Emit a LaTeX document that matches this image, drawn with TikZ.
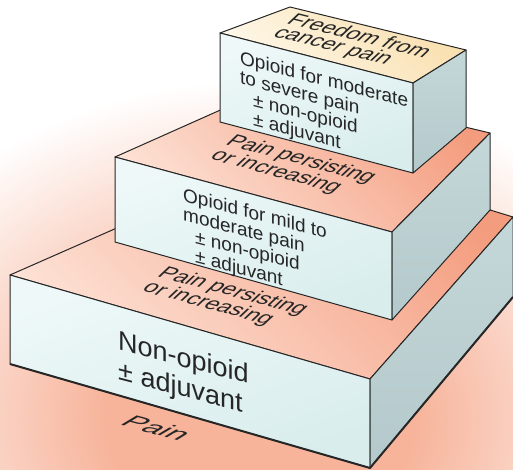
\documentclass[tikz,border=0pt]{standalone}
\usepackage{fontspec}
\setmainfont{Liberation Sans}
\definecolor{edge}{HTML}{262626}
\definecolor{frontA}{HTML}{EEF8F8}
\definecolor{frontB}{HTML}{D9EDED}
\definecolor{sideA}{HTML}{C4D7D9}
\definecolor{sideB}{HTML}{B4C9CB}
\definecolor{topDark}{HTML}{F49C7E}
\definecolor{topLight}{HTML}{FDE2D6}
\definecolor{creamDark}{HTML}{F9DFAE}
\definecolor{creamLight}{HTML}{FEF8EA}
\definecolor{glowc}{HTML}{F7B49B}
\pgfdeclareradialshading{glowshade}{\pgfpoint{0bp}{0bp}}{color(0bp)=(glowc); color(9bp)=(glowc); color(25bp)=(white); color(50bp)=(white)}
\begin{document}
\begin{tikzpicture}[x=1pt,y=-1pt,
  frontface/.style={top color=frontA, bottom color=frontB, shading angle=20, draw=edge, line width=1pt, line join=round},
  sideface/.style={top color=sideA, bottom color=sideB, draw=edge, line width=1pt, line join=round},
  topface/.style={top color=topDark, bottom color=topLight, shading angle=-45, draw=edge, line width=1pt, line join=round},
  creamface/.style={top color=creamDark, bottom color=creamLight, shading angle=-45, draw=edge, line width=1pt, line join=round},
  frontlbl/.style={align=left, inner sep=0pt, anchor=north west, yslant=-0.26, text=black!85},
  facelbl/.style={align=left, inner sep=0pt, anchor=center, text=black!85, font=\fontsize{22}{19}\selectfont}]
\useasboundingbox (0,0) rectangle (513,470);
\clip (0,0) rectangle (513,470);
\fill[white] (0,0) rectangle (513,470);
\shade[shading=glowshade] (260,420) ellipse [x radius=430, y radius=340];

% bottom block
\coordinate (b1) at (10,275);
\coordinate (b2) at (370,379);
\coordinate (b3) at (370,468);
\coordinate (b4) at (10,364);
\coordinate (b5) at (513,217);
\coordinate (b6) at (513,297);
\coordinate (b7) at (294,150);
\path[topface] (b1) -- (b2) -- (b5) -- (b7) -- cycle;
\path[frontface] (b1) -- (b2) -- (b3) -- (b4) -- cycle;
\path[sideface] (b2) -- (b5) -- (b6) -- (b3) -- cycle;
\draw[edge, line width=2pt, line join=round] (b4) -- (b3) -- (b6);

% middle block
\coordinate (m1) at (115,157);
\coordinate (m2) at (392,232);
\coordinate (m3) at (392,320);
\coordinate (m4) at (115,242);
\coordinate (m5) at (490,133);
\coordinate (m6) at (490,210);
\coordinate (m7) at (281,83);
\path[topface] (m1) -- (m2) -- (m5) -- (m7) -- cycle;
\path[frontface] (m1) -- (m2) -- (m3) -- (m4) -- cycle;
\path[sideface] (m2) -- (m5) -- (m6) -- (m3) -- cycle;

% top block
\coordinate (t1) at (220,33);
\coordinate (t2) at (413,83);
\coordinate (t3) at (413,173);
\coordinate (t4) at (220,122);
\coordinate (t5) at (466,50);
\coordinate (t6) at (466,128);
\coordinate (t7) at (290,7);
\path[creamface] (t1) -- (t2) -- (t5) -- (t7) -- cycle;
\path[frontface] (t1) -- (t2) -- (t3) -- (t4) -- cycle;
\path[sideface] (t2) -- (t5) -- (t6) -- (t3) -- cycle;

% front labels
\node[frontlbl, font=\fontsize{19}{19.5}\selectfont] (ltop) at (240,50)
  {Opioid for moderate\\to severe pain\\\hspace*{13pt}± non-opioid\\\hspace*{13pt}± adjuvant};
\node[frontlbl, font=\fontsize{19}{19.5}\selectfont] (lmid) at (183,187)
  {Opioid for mild to\\moderate pain\\\hspace*{12pt}± non-opioid\\\hspace*{12pt}± adjuvant};
\node[frontlbl, font=\fontsize{27}{30}\selectfont] (lbot) at (118,330)
  {Non-opioid\\± adjuvant};

% top-face labels
\node[facelbl, cm={1,-0.25,0.72,0.68,(0,0)}] (lfree) at (352,43) {Freedom from\\cancer pain};
\node[facelbl, cm={1,-0.27,0.72,0.68,(0,0)}] (lpp1) at (293,167) {Pain persisting\\or increasing};
\node[facelbl, cm={1,-0.27,0.72,0.68,(0,0)}] (lpp2) at (225,299) {Pain persisting\\or increasing};
\node[facelbl, font=\fontsize{30}{30}\selectfont, cm={1,-0.27,0.75,0.45,(0,0)}] (lpain) at (157,428) {Pain};
\end{tikzpicture}
\end{document}
